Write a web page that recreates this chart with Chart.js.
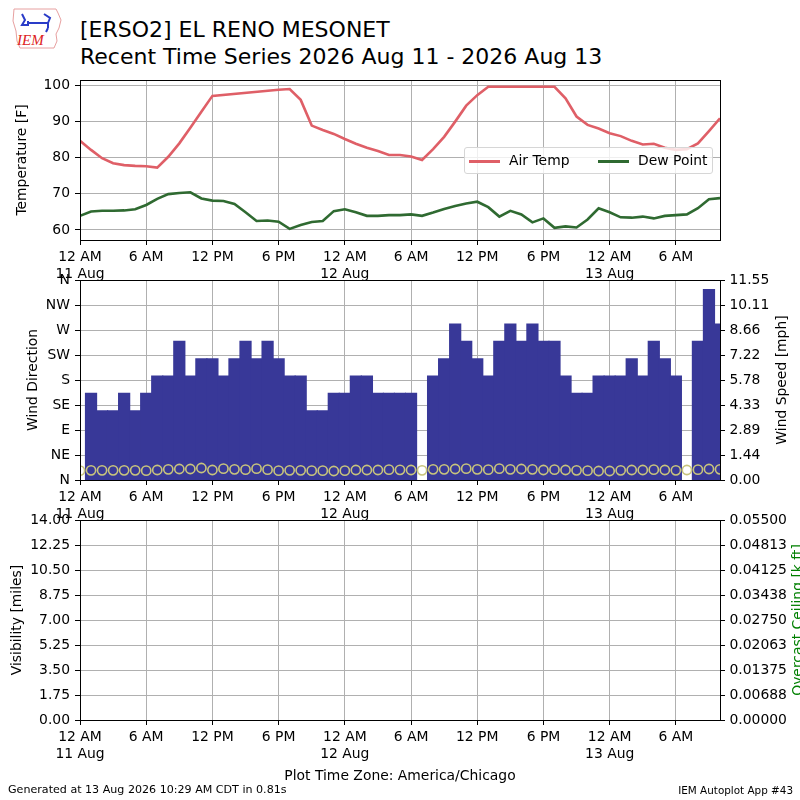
<!DOCTYPE html>
<html>
<head>
<meta charset="utf-8">
<title>ERSO2 recent time series</title>
<script src="https://cdn.jsdelivr.net/npm/chart.js@4.4.1/dist/chart.umd.min.js"></script>
<style>
  html, body { margin: 0; padding: 0; background: #fff; }
  body { width: 800px; height: 800px; position: relative; overflow: hidden; font-family: "DejaVu Sans", sans-serif; color: #000; }
  canvas { position: absolute; left: 0; }
  .txt { position: absolute; white-space: nowrap; }
  #title { left: 80px; top: 16px; font-size: 22px; line-height: 27px; }
  #legend { position: absolute; left: 464px; top: 147px; width: 247px; height: 25px;
            background: rgba(255,255,255,0.8); border: 1px solid #d6d6d6; border-radius: 3px; font-size: 13.9px; }
  #legend .ln { position: absolute; top: 12px; width: 31px; height: 3px; }
  #legend .lb { position: absolute; top: 4px; line-height: 17px; }
</style>
</head>
<body>

<svg style="position:absolute;left:8px;top:6px" width="58" height="46" viewBox="0 0 58 46">
  <polygon points="6,3 48,3 50,7 53,14 51,22 48,28 49,35 46,42 12,42 9,35 8,25 5,15" fill="none" stroke="#e7a0a0" stroke-width="1"/>
  <path d="M14,8 L17,14 L14,19 L20,19 L20,15 M20,17 L40,17 L40,22 M36,8 L42,12 L40,17 M40,22 L38,26" fill="none" stroke="#2a3cc8" stroke-width="2"/>
  <text x="9" y="39" font-family="Liberation Serif, serif" font-style="italic" font-size="15" fill="#d22">IEM</text>
</svg>

<div id="title" class="txt">[ERSO2] EL RENO MESONET<br>Recent Time Series 2026 Aug 11 - 2026 Aug 13</div>

<canvas id="tempChart" width="800" height="230" style="top:60px"></canvas>
<canvas id="windChart" width="800" height="265" style="top:265px"></canvas>
<canvas id="visChart" width="800" height="265" style="top:505px"></canvas>

<div id="legend">
  <div class="ln" style="left:4px;background:#df5f67"></div>
  <div class="lb" style="left:44px">Air Temp</div>
  <div class="ln" style="left:133px;background:#2f6a31"></div>
  <div class="lb" style="left:173px">Dew Point</div>
</div>

<div class="txt" style="left:0;width:800px;text-align:center;top:767px;font-size:13.9px;line-height:17px">Plot Time Zone: America/Chicago</div>
<div class="txt" style="left:8px;top:783px;font-size:11.1px;line-height:14px">Generated at 13 Aug 2026 10:29 AM CDT in 0.81s</div>
<div class="txt" style="right:7px;top:783px;font-size:10.4px;line-height:14px">IEM Autoplot App #43</div>

<script>
// hours since 12 AM 11 Aug (local time)
const hours = [0, 1, 2, 3, 4, 5, 6, 7, 8, 9, 10, 11, 12, 13, 14, 15, 16, 17, 18, 19,
  20, 21, 22, 23, 24, 25, 26, 27, 28, 29, 30, 31, 32, 33, 34, 35, 36, 37, 38, 39,
  40, 41, 42, 43, 44, 45, 46, 47, 48, 49, 50, 51, 52, 53, 54, 55, 56, 57, 58];

const airTemp = [84.6, 82.1, 79.8, 78.4, 77.9, 77.7, 77.6, 77.2, 80.2, 83.9,
  88.2, 92.6, 97.0, null, null, null, null, null, 98.7, 98.9,
  95.9, 88.8, 87.6, 86.5, 85.1, 83.8, 82.7, 81.8, 80.7, 80.7,
  80.3, 79.3, 82.3, 85.7, 89.9, 94.3, 97.2, 99.5, 99.5, 99.5,
  99.5, 99.5, 99.5, 99.5, 96.3, 91.3, 89.0, 88.0, 86.7, 85.9,
  84.6, 83.6, 83.8, 82.7, 82.1, 82.3, 83.9, 87.3, 90.8];

const dewPoint = [63.9, 65.1, 65.3, 65.3, 65.4, 65.7, 66.9, 68.6, 69.9, 70.2,
  70.4, 68.7, 68.1, 68.0, 67.2, 64.9, 62.5, 62.6, 62.3, 60.3,
  61.4, 62.2, 62.5, 65.2, 65.7, 64.9, 63.9, 63.9, 64.1, 64.1,
  64.3, 63.9, 64.8, 65.8, 66.6, 67.3, 67.8, 66.3, 63.7, 65.3,
  64.3, 62.1, 63.2, 60.6, 61.0, 60.7, 62.9, 66.0, 64.9, 63.5,
  63.4, 63.7, 63.2, 63.9, 64.1, 64.3, 66.0, 68.5, 68.8];

// mph
const windSpeed = [null, 5, 4, 4, 5, 4, 5, 6, 6, 8,
  6, 7, 7, 6, 7, 8, 7, 8, 7, 6,
  6, 4, 4, 5, 5, 6, 6, 5, 5, 5,
  5, null, 6, 7, 9, 8, 7, 6, 8, 9,
  8, 9, 8, 8, 6, 5, 5, 6, 6, 6,
  7, 6, 8, 7, 6, null, 8, 11, 9];

// degrees, as plotted on the direction axis
const windDir = [16.8, 17.4, 17.4, 17.4, 17.4, 17.4, 16.8, 18.0, 19.2, 19.8,
  19.8, 21.6, 18.0, 20.4, 19.2, 18.6, 20.4, 18.6, 16.8, 17.4,
  17.4, 16.8, 16.8, 16.2, 16.8, 18.0, 18.0, 18.0, 18.6, 18.3,
  18.0, 17.4, 19.2, 19.2, 19.8, 20.4, 19.2, 18.6, 20.4, 19.2,
  19.8, 19.2, 18.0, 18.6, 18.0, 17.4, 16.8, 16.2, 16.2, 17.4,
  18.0, 18.0, 18.6, 18.0, 17.4, 18.0, 18.6, 19.8, 19.2];

const xTickValues = [0, 6, 12, 18, 24, 30, 36, 42, 48, 54];
const xTickLabels = [['12 AM', '11 Aug'], '6 AM', '12 PM', '6 PM', ['12 AM', '12 Aug'],
  '6 AM', '12 PM', '6 PM', ['12 AM', '13 Aug'], '6 AM'];

const tempTicks = [60, 70, 80, 90, 100];
const tempTickLabels = ['60', '70', '80', '90', '100'];

const dirTicks = [0, 45, 90, 135, 180, 225, 270, 315, 360];
const dirTickLabels = ['N', 'NE', 'E', 'SE', 'S', 'SW', 'W', 'NW', 'N'];

const speedTicks = [0, 1.44375, 2.8875, 4.33125, 5.775, 7.21875, 8.6625, 10.10625, 11.55];
const speedTickLabels = ['0.00', '1.44', '2.89', '4.33', '5.78', '7.22', '8.66', '10.11', '11.55'];

const visTicks = [0, 1.75, 3.5, 5.25, 7, 8.75, 10.5, 12.25, 14];
const visTickLabels = ['0.00', '1.75', '3.50', '5.25', '7.00', '8.75', '10.50', '12.25', '14.00'];

const ceilTicks = [0, 0.006875, 0.01375, 0.020625, 0.0275, 0.034375, 0.04125, 0.048125, 0.055];
const ceilTickLabels = ['0.00000', '0.00688', '0.01375', '0.02063', '0.02750', '0.03438', '0.04125', '0.04813', '0.05500'];

const GRID = '#b0b0b0';
const FONT = '13.9px "DejaVu Sans", sans-serif';

Chart.defaults.font.family = '"DejaVu Sans", sans-serif';
Chart.defaults.font.size = 13.9;
Chart.defaults.color = '#000';
Chart.defaults.animation = false;

function points(values) {
  const out = [];
  hours.forEach((h, i) => {
    if (values[i] !== null) out.push({ x: h, y: values[i] });
  });
  return out;
}

const fixedTicks = (vals) => (scale) => { scale.ticks = vals.map(v => ({ value: v })); };

// black box around the plot area, like matplotlib spines
const framePlugin = {
  id: 'frame',
  afterDraw(chart) {
    const { ctx, chartArea: a } = chart;
    ctx.save();
    ctx.strokeStyle = '#000';
    ctx.lineWidth = 1;
    ctx.strokeRect(a.left + 0.5, a.top + 0.5, a.right - a.left, a.bottom - a.top);
    ctx.restore();
  }
};

// axis titles read bottom-to-top on both sides
const sideTitles = {
  id: 'sideTitles',
  afterDraw(chart, args, opts) {
    const { ctx, chartArea: a } = chart;
    const cy = (a.top + a.bottom) / 2;
    (opts.items || []).forEach(t => {
      ctx.save();
      ctx.translate(t.x, cy);
      ctx.rotate(-Math.PI / 2);
      ctx.font = FONT;
      ctx.fillStyle = t.color || '#000';
      ctx.textAlign = 'center';
      ctx.textBaseline = 'middle';
      ctx.fillText(t.text, 0, 0);
      ctx.restore();
    });
  }
};

function xScale(z) {
  return {
    type: 'linear', min: 0, max: 58, offset: false, z: z || 0,
    grid: { color: GRID, tickColor: '#000', tickLength: 5, offset: false },
    border: { display: false },
    ticks: { padding: 4, maxRotation: 0, autoSkip: false, callback: (v, i) => xTickLabels[i] },
    afterBuildTicks: fixedTicks(xTickValues),
    afterFit: (s) => { s.height = 50; }
  };
}

function yScale(position, min, max, vals, labels, onArea, z) {
  return {
    type: 'linear', position, min, max, z: z || 0,
    grid: { color: GRID, tickColor: '#000', tickLength: 5, drawOnChartArea: onArea },
    border: { display: false },
    ticks: { padding: position === 'left' ? 5 : 4.5, autoSkip: false, callback: (v, i) => labels[i] },
    afterBuildTicks: fixedTicks(vals),
    afterFit: (s) => { s.width = 80; }
  };
}

new Chart(document.getElementById('tempChart'), {
  type: 'line',
  data: {
    datasets: [
      { label: 'Air Temp', data: points(airTemp), borderColor: '#df5f67', borderWidth: 2.6,
        pointRadius: 0, spanGaps: true, tension: 0, clip: 0 },
      { label: 'Dew Point', data: points(dewPoint), borderColor: '#2f6a31', borderWidth: 2.6,
        pointRadius: 0, spanGaps: true, tension: 0, clip: 0 }
    ]
  },
  options: {
    responsive: false,
    layout: { padding: { top: 20, right: 80, left: 0, bottom: 0 } },
    scales: {
      x: xScale(),
      y: yScale('left', 57.24, 101.38, tempTicks, tempTickLabels, true)
    },
    plugins: {
      legend: { display: false },
      tooltip: { enabled: false },
      sideTitles: { items: [{ text: 'Temperature [F]', x: 22 }] }
    }
  },
  plugins: [framePlugin, sideTitles]
});

new Chart(document.getElementById('windChart'), {
  type: 'bar',
  data: {
    datasets: [
      { type: 'line', label: 'Wind Direction', data: points(windDir), yAxisID: 'y', showLine: false,
        pointRadius: 4.6, pointBorderWidth: 1.6, pointBorderColor: '#c8c47c',
        pointBackgroundColor: 'rgba(0,0,0,0)', clip: 0 },
      { type: 'bar', label: 'Wind Speed', data: points(windSpeed), yAxisID: 'y2',
        backgroundColor: '#383898', borderWidth: 0, barPercentage: 1, categoryPercentage: 1,
        inflateAmount: 0.6, grouped: false, clip: 0 }
    ]
  },
  options: {
    responsive: false,
    layout: { padding: { top: 15, right: 0, left: 0, bottom: 0 } },
    scales: {
      x: xScale(1),
      y: yScale('left', 0, 360, dirTicks, dirTickLabels, true, 1),
      y2: yScale('right', 0, 11.55, speedTicks, speedTickLabels, false, 1)
    },
    plugins: {
      legend: { display: false },
      tooltip: { enabled: false },
      sideTitles: { items: [{ text: 'Wind Direction', x: 33 }, { text: 'Wind Speed [mph]', x: 782 }] }
    }
  },
  plugins: [framePlugin, sideTitles]
});

new Chart(document.getElementById('visChart'), {
  type: 'line',
  data: { datasets: [] },
  options: {
    responsive: false,
    layout: { padding: { top: 15, right: 0, left: 0, bottom: 0 } },
    scales: {
      x: xScale(),
      y: yScale('left', 0, 14, visTicks, visTickLabels, true),
      y2: yScale('right', 0, 0.055, ceilTicks, ceilTickLabels, false)
    },
    plugins: {
      legend: { display: false },
      tooltip: { enabled: false },
      sideTitles: { items: [{ text: 'Visibility [miles]', x: 17 }, { text: 'Overcast Ceiling [k ft]', x: 798, color: '#008000' }] }
    }
  },
  plugins: [framePlugin, sideTitles]
});
</script>
</body>
</html>
